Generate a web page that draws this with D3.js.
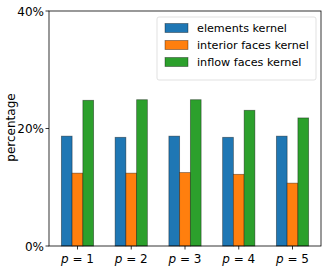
<!DOCTYPE html>
<html>
<head>
<meta charset="utf-8">
<script src="https://cdn.jsdelivr.net/npm/d3@7"></script>
<style>
  body { margin: 0; background: #fff; }
  text { font-family: "DejaVu Sans", sans-serif; fill: #000; }
</style>
</head>
<body>
<script>
const degrees = [1, 2, 3, 4, 5];
const seriesNames = ["elements kernel", "interior faces kernel", "inflow faces kernel"];
const elements = [18.7, 18.5, 18.7, 18.5, 18.7];
const interiorFaces = [12.4, 12.4, 12.5, 12.2, 10.7];
const inflowFaces = [24.8, 24.9, 24.9, 23.1, 21.8];
const yTicks = [0, 20, 40];
const colors = ["#1f77b4", "#ff7f0e", "#2ca02c"];

const series = [elements, interiorFaces, inflowFaces];

const width = 327, height = 273;
const plotLeft = 49, plotRight = 321, plotTop = 11, plotBottom = 246;

const svg = d3.select("body").append("svg")
    .attr("width", width)
    .attr("height", height);

// group centers at 0..4, bars 0.2 wide, 5% margins like matplotlib
const x = d3.scaleLinear().domain([-0.53, 4.53]).range([plotLeft, plotRight]);
const y = d3.scaleLinear().domain([0, 40]).range([plotBottom, plotTop]);
const barW = 0.2;

series.forEach(function(values, s) {
    svg.append("g")
        .selectAll("rect")
        .data(values)
        .enter().append("rect")
        .attr("x", function(d, i) { return x(i + (s - 1) * barW - barW / 2); })
        .attr("width", x(barW) - x(0))
        .attr("y", function(d) { return y(d); })
        .attr("height", function(d) { return y(0) - y(d); })
        .attr("fill", colors[s])
        .attr("stroke", "rgba(0,0,0,0.45)")
        .attr("stroke-width", 0.8);
});

// frame
svg.append("rect")
    .attr("x", plotLeft).attr("y", plotTop)
    .attr("width", plotRight - plotLeft).attr("height", plotBottom - plotTop)
    .attr("fill", "none")
    .attr("stroke", "#000")
    .attr("stroke-width", 0.8);

// x axis
const xAxis = svg.append("g");
degrees.forEach(function(p, i) {
    xAxis.append("line")
        .attr("x1", x(i)).attr("x2", x(i))
        .attr("y1", plotBottom).attr("y2", plotBottom + 3.5)
        .attr("stroke", "#000").attr("stroke-width", 0.8);
    const t = xAxis.append("text")
        .attr("x", x(i)).attr("y", plotBottom + 17)
        .attr("text-anchor", "middle")
        .attr("font-size", 12);
    t.append("tspan").attr("font-style", "italic").text("p");
    t.append("tspan").text(" = " + p);
});

// y axis
const yAxis = svg.append("g");
yTicks.forEach(function(v) {
    yAxis.append("line")
        .attr("x1", plotLeft - 3.5).attr("x2", plotLeft)
        .attr("y1", y(v)).attr("y2", y(v))
        .attr("stroke", "#000").attr("stroke-width", 0.8);
    yAxis.append("text")
        .attr("x", plotLeft - 5).attr("y", y(v) + 4.5)
        .attr("text-anchor", "end")
        .attr("font-size", 12)
        .text(v + "%");
});

svg.append("text")
    .attr("transform", "translate(15," + ((plotTop + plotBottom) / 2 - 1) + ") rotate(-90)")
    .attr("text-anchor", "middle")
    .attr("font-size", 12)
    .text("percentage");

// legend
const legend = svg.append("g");
legend.append("rect")
    .attr("x", 157).attr("y", 17)
    .attr("width", 159).attr("height", 63)
    .attr("rx", 2)
    .attr("fill", "#fff")
    .attr("fill-opacity", 0.8)
    .attr("stroke", "#d9d9d9")
    .attr("stroke-width", 0.8);

seriesNames.forEach(function(name, s) {
    const cy = 28 + s * 17;
    legend.append("rect")
        .attr("x", 165).attr("y", cy - 4.5)
        .attr("width", 23).attr("height", 9)
        .attr("fill", colors[s])
        .attr("stroke", "rgba(0,0,0,0.45)")
        .attr("stroke-width", 0.8);
    legend.append("text")
        .attr("x", 197).attr("y", cy + 4)
        .attr("font-size", 11.2)
        .text(name);
});
</script>
</body>
</html>
